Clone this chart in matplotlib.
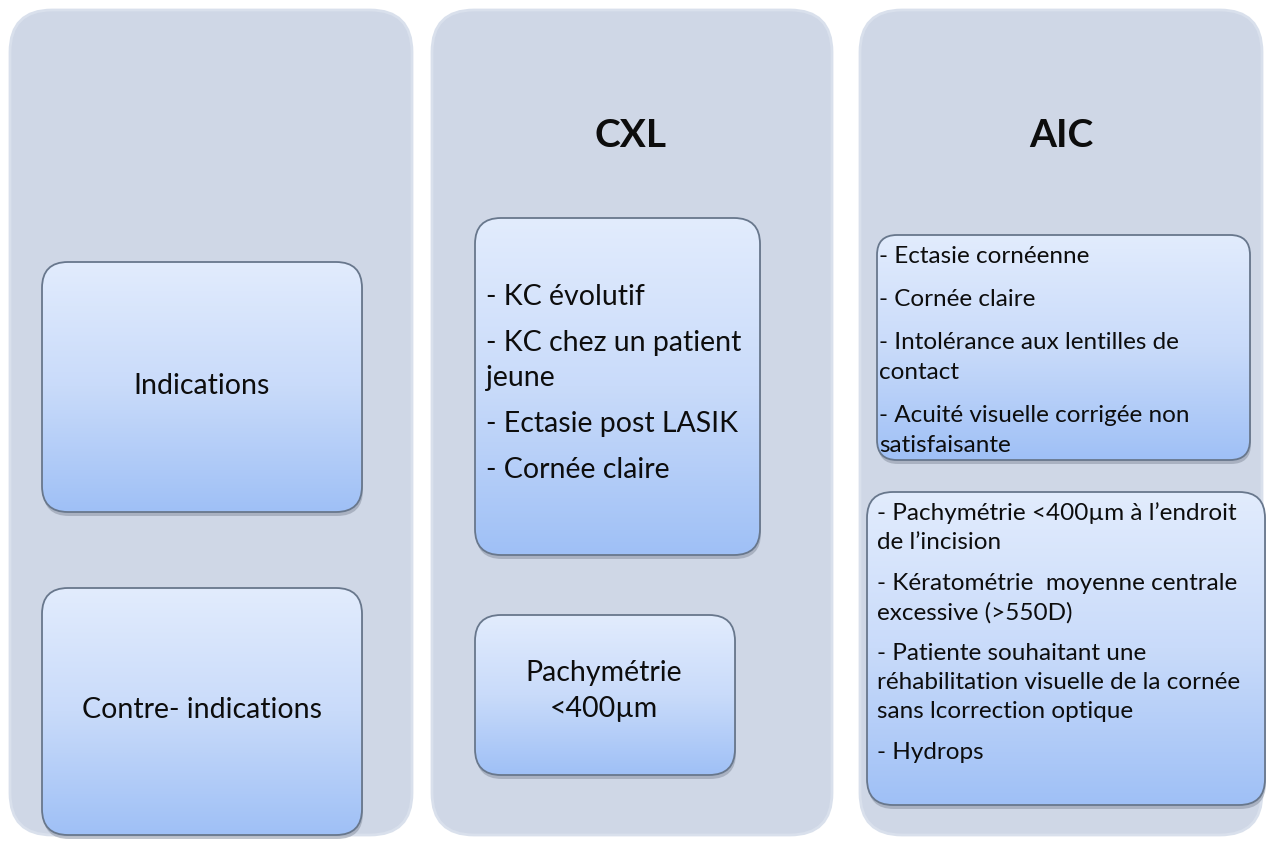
import numpy as np
import matplotlib
matplotlib.use('Agg')
from matplotlib import pyplot as plt
from matplotlib.patches import FancyBboxPatch
from matplotlib.colors import LinearSegmentedColormap

plt.rcParams['font.family'] = ['Lato', 'DejaVu Sans']

# texts of the diagram
column_titles = ['', 'CXL', 'AIC']
row_labels = ['Indications', 'Contre- indications']
cxl_indications = ['- KC évolutif', '- KC chez un patient\njeune',
                   '- Ectasie post LASIK', '- Cornée claire']
cxl_contra = ['Pachymétrie', '<400µm']
aic_indications = ['- Ectasie cornéenne', '- Cornée claire',
                   '- Intolérance aux lentilles de\ncontact',
                   '- Acuité visuelle corrigée non\nsatisfaisante']
aic_contra = ['- Pachymétrie <400µm à l\u2019endroit\nde l\u2019incision',
              '- Kératométrie  moyenne centrale\nexcessive (>550D)',
              '- Patiente souhaitant une\nréhabilitation visuelle de la cornée\nsans lcorrection optique',
              '- Hydrops']

W, H = 1266, 841
fig = plt.figure(figsize=(W / 100, H / 100), dpi=100)
ax = fig.add_axes([0, 0, 1, 1])
ax.set_xlim(0, W)
ax.set_ylim(H, 0)
ax.axis('off')

grad_cmap = LinearSegmentedColormap.from_list('box', ['#e2ecfd', '#c9dbfa', '#9fc0f6'])
ink = '#0d0d0d'


def column(x0, x1, y0, y1):
    p = FancyBboxPatch((x0, y0), x1 - x0, y1 - y0,
                       boxstyle='round,pad=0,rounding_size=42',
                       fc='#cfd7e6', ec='#d9e0ec', lw=2, zorder=1)
    ax.add_patch(p)


def box(x0, x1, y0, y1, r=26):
    shadow = FancyBboxPatch((x0 + 1, y0 + 4), x1 - x0, y1 - y0,
                            boxstyle=f'round,pad=0,rounding_size={r}',
                            fc='#8a93a3', ec='none', alpha=0.55, zorder=2)
    ax.add_patch(shadow)
    p = FancyBboxPatch((x0, y0), x1 - x0, y1 - y0,
                       boxstyle=f'round,pad=0,rounding_size={r}',
                       fc='none', ec='#68778c', lw=1.3, zorder=4)
    ax.add_patch(p)
    grad = np.linspace(0, 1, 256).reshape(-1, 1)
    im = ax.imshow(grad, cmap=grad_cmap, extent=(x0, x1, y1, y0),
                   aspect='auto', origin='upper', zorder=3)
    clip = FancyBboxPatch((x0, y0), x1 - x0, y1 - y0,
                          boxstyle=f'round,pad=0,rounding_size={r}',
                          transform=ax.transData)
    im.set_clip_path(clip)


def items(entries, x, y, wrap, extra, size):
    for item in entries:
        for line in item.split('\n'):
            ax.text(x, y, line, fontsize=size, color=ink,
                    ha='left', va='center', zorder=5)
            y += wrap
        y += extra


# columns
column(10, 412, 10, 835)
column(432, 832, 10, 835)
column(860, 1262, 10, 835)

# titles
for cx, title in zip([211, 631, 1061], column_titles):
    ax.text(cx, 135, title, fontsize=28, fontweight='bold', color=ink,
            ha='center', va='center', zorder=5)

# left column
box(42, 362, 262, 512)
box(42, 362, 588, 835)
ax.text(202, 386, row_labels[0], fontsize=20.5, color=ink,
        ha='center', va='center', zorder=5)
ax.text(202, 710, row_labels[1], fontsize=20.5, color=ink,
        ha='center', va='center', zorder=5)

# CXL column
box(475, 760, 218, 555)
items(cxl_indications, 486, 297, 35, 11, 20.5)
box(475, 735, 615, 775)
for i, line in enumerate(cxl_contra):
    ax.text(604, 673 + 36 * i, line, fontsize=20.5, color=ink,
            ha='center', va='center', zorder=5)

# AIC column
box(877, 1250, 235, 460, r=20)
items(aic_indications, 879, 256, 30, 13, 17.5)
box(867, 1265, 492, 805, r=26)
items(aic_contra, 877, 513, 29.5, 11, 17.5)

fig.savefig('out.png', dpi=100, facecolor='white')
